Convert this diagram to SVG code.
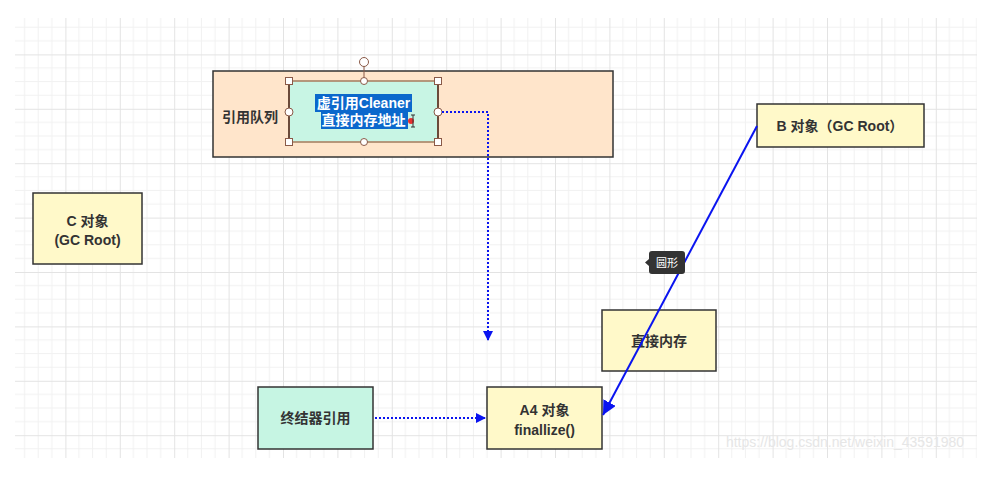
<svg xmlns="http://www.w3.org/2000/svg" width="985" height="484" viewBox="0 0 985 484">
<defs>
<pattern id="grid" patternUnits="userSpaceOnUse" x="11" y="0" width="54.4" height="54.4">
<path d="M13.6 0V54.4M27.2 0V54.4M40.8 0V54.4M0 13.6H54.4M0 27.2H54.4M0 40.8H54.4" stroke="#f1f1f1" stroke-width="1" fill="none"/>
<path d="M0.5 0V54.4M0 0.5H54.4" stroke="#e3e3e3" stroke-width="1" fill="none"/>
</pattern>
<marker id="arr" viewBox="0 0 10 10" refX="10" refY="5" markerWidth="10" markerHeight="10" markerUnits="userSpaceOnUse" orient="auto">
<path d="M0 0L10 5L0 10z" fill="#0a14f0"/>
</marker>
<marker id="arr2" viewBox="0 0 10 10" refX="10" refY="5" markerWidth="14" markerHeight="14" markerUnits="userSpaceOnUse" orient="auto">
<path d="M0 0L10 5L0 10z" fill="#0a14f0"/>
</marker>
<style>
.box{stroke:#333;stroke-width:1.5}
.yel{fill:#fff9c9}
.mint{fill:#c6f5e3}
.t{font-family:"Liberation Sans","Noto Sans CJK SC",sans-serif;font-size:14px;font-weight:bold;fill:#333;text-anchor:middle}
.w{fill:#fff}
.dot{stroke:#0a14f0;stroke-width:2;stroke-dasharray:2 2;fill:none}
.h{fill:#fff;stroke:#8a5a48;stroke-width:1}
</style>
</defs>
<rect width="985" height="484" fill="#fff"/>
<rect x="15" y="18" width="962" height="440" fill="url(#grid)"/>
<g id="queue">
<rect class="box" x="213" y="71" width="400" height="86" fill="#ffe5cb"/>
<text class="t" x="250" y="122">引用队列</text>
</g>
<g id="cleaner">
<rect x="289" y="81" width="149" height="61" fill="#c8f5e4" stroke="#f3d3a6" stroke-width="1.5"/>
<rect x="289" y="81" width="149" height="61" fill="none" stroke="#7a5444" stroke-width="1"/>
<line x1="289" y1="81" x2="289" y2="142" stroke="#6b4a3a" stroke-width="2"/>
<line x1="438" y1="81" x2="438" y2="142" stroke="#6b4a3a" stroke-width="2"/>
<line x1="364" y1="66" x2="364" y2="81" stroke="#8a5a48" stroke-width="1"/>
<circle class="h" cx="364" cy="62" r="4.5"/>
<rect class="h" x="285.5" y="77.5" width="7" height="7"/>
<rect class="h" x="434.5" y="77.5" width="7" height="7"/>
<rect class="h" x="285.5" y="138.5" width="7" height="7"/>
<rect class="h" x="434.5" y="138.5" width="7" height="7"/>
<circle class="h" cx="289" cy="112" r="4"/>
<circle class="h" cx="438" cy="112" r="4"/>
<circle class="h" cx="364" cy="81" r="3.5"/>
<circle class="h" cx="364" cy="142" r="3.5"/>
<rect x="315" y="94" width="97" height="18" fill="#0b68cc"/>
<rect x="321" y="112" width="87" height="17" fill="#0b68cc"/>
<text class="t w" x="363.5" y="108">虚引用Cleaner</text>
<text class="t w" x="363.5" y="125">直接内存地址</text>
<circle cx="411" cy="121" r="3" fill="#e83030"/>
<path d="M411 115h4M413 115v12M411 127h4" stroke="#333" stroke-width="1" fill="none"/>
</g>
<g id="b">
<rect class="box yel" x="757" y="104" width="167" height="43"/>
<text class="t" x="840" y="131">B 对象（GC Root）</text>
</g>
<g id="c">
<rect class="box yel" x="33" y="193" width="109" height="71"/>
<text class="t" x="87.5" y="226">C 对象</text>
<text class="t" x="87.5" y="245">(GC Root)</text>
</g>
<g id="direct">
<rect class="box yel" x="602" y="310" width="114" height="61"/>
<text class="t" x="659" y="346">直接内存</text>
</g>
<g id="finalizer">
<rect class="box mint" x="258" y="387" width="115" height="62"/>
<text class="t" x="315.5" y="423">终结器引用</text>
</g>
<g id="a4">
<rect class="box yel" x="487" y="387" width="115" height="62"/>
<text class="t" x="544.5" y="415">A4 对象</text>
<text class="t" x="544.5" y="435">finallize()</text>
</g>
<g id="connectors">
<path class="dot" d="M442 112H488V341" marker-end="url(#arr)"/>
<path class="dot" d="M375 418H486" marker-end="url(#arr)"/>
<path d="M757 126L603 415" stroke="#0a14f0" stroke-width="2" fill="none" marker-end="url(#arr2)"/>
</g>
<g id="tooltip">
<path d="M652 251H682a3 3 0 0 1 3 3V271a3 3 0 0 1-3 3H652a3 3 0 0 1-3-3V266L645 262.5L649 259V254a3 3 0 0 1 3-3z" fill="#333"/>
<text x="667" y="267" font-family="'Noto Sans CJK SC',sans-serif" font-size="11" fill="#fff" text-anchor="middle">圆形</text>
</g>
<text x="845" y="447" font-family="'Liberation Sans',Arial,sans-serif" font-size="14" fill="#e6e6e6" text-anchor="middle">https://blog.csdn.net/weixin_43591980</text>
</svg>
